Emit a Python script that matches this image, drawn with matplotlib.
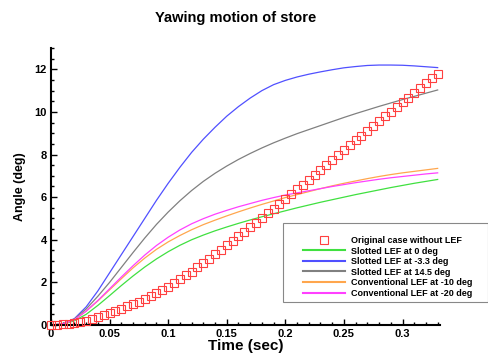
import numpy as np
import matplotlib
matplotlib.use("Agg")
import matplotlib.pyplot as plt
from matplotlib.patches import Rectangle
from matplotlib.ticker import MultipleLocator, FormatStrFormatter

plt.rcParams['font.family'] = ['Liberation Sans', 'DejaVu Sans']

# time grid of the line curves (sec)
t_line = [0.00, 0.01, 0.02, 0.03, 0.04, 0.05, 0.06, 0.07, 0.08, 0.09,
          0.10, 0.11, 0.12, 0.13, 0.14, 0.15, 0.16, 0.17, 0.18, 0.19,
          0.20, 0.21, 0.22, 0.23, 0.24, 0.25, 0.26, 0.27, 0.28, 0.29,
          0.30, 0.31, 0.32, 0.33]

slotted_0 = [0.00, 0.04, 0.20, 0.50, 0.92, 1.38, 1.85, 2.30, 2.72, 3.10,
             3.44, 3.74, 4.00, 4.22, 4.42, 4.60, 4.77, 4.93, 5.08, 5.22,
             5.36, 5.50, 5.63, 5.76, 5.88, 6.00, 6.12, 6.23, 6.34, 6.45,
             6.55, 6.65, 6.74, 6.83]
slotted_m33 = [0.00, 0.05, 0.30, 0.85, 1.60, 2.45, 3.30, 4.15, 5.00, 5.85,
               6.65, 7.40, 8.10, 8.72, 9.28, 9.80, 10.25, 10.65, 11.00, 11.28,
               11.48, 11.64, 11.77, 11.88, 11.98, 12.07, 12.13, 12.18, 12.20, 12.20,
               12.19, 12.16, 12.12, 12.08]
slotted_145 = [0.00, 0.05, 0.28, 0.75, 1.35, 2.00, 2.70, 3.40, 4.08, 4.72,
               5.30, 5.83, 6.31, 6.74, 7.12, 7.46, 7.77, 8.05, 8.31, 8.55,
               8.77, 8.98, 9.17, 9.36, 9.55, 9.74, 9.92, 10.09, 10.26, 10.42,
               10.58, 10.73, 10.88, 11.03]
conv_m10 = [0.00, 0.05, 0.25, 0.65, 1.13, 1.65, 2.17, 2.68, 3.14, 3.55,
            3.90, 4.20, 4.47, 4.71, 4.92, 5.12, 5.31, 5.49, 5.66, 5.82,
            5.98, 6.12, 6.26, 6.40, 6.53, 6.65, 6.76, 6.87, 6.97, 7.06,
            7.14, 7.21, 7.28, 7.35]
conv_m20 = [0.00, 0.05, 0.25, 0.65, 1.15, 1.70, 2.25, 2.78, 3.28, 3.73,
            4.12, 4.46, 4.75, 4.99, 5.20, 5.38, 5.55, 5.70, 5.85, 5.98,
            6.10, 6.20, 6.30, 6.40, 6.50, 6.59, 6.68, 6.76, 6.84, 6.91,
            6.97, 7.03, 7.09, 7.14]

# original case, one marker every 0.005 sec
t_orig = [0.000, 0.005, 0.010, 0.015, 0.020, 0.025, 0.030, 0.035, 0.040, 0.045,
          0.050, 0.055, 0.060, 0.065, 0.070, 0.075, 0.080, 0.085, 0.090, 0.095,
          0.100, 0.105, 0.110, 0.115, 0.120, 0.125, 0.130, 0.135, 0.140, 0.145,
          0.150, 0.155, 0.160, 0.165, 0.170, 0.175, 0.180, 0.185, 0.190, 0.195,
          0.200, 0.205, 0.210, 0.215, 0.220, 0.225, 0.230, 0.235, 0.240, 0.245,
          0.250, 0.255, 0.260, 0.265, 0.270, 0.275, 0.280, 0.285, 0.290, 0.295,
          0.300, 0.305, 0.310, 0.315, 0.320, 0.325, 0.330]
original = [0.00, 0.01, 0.03, 0.06, 0.10, 0.15, 0.21, 0.28, 0.36, 0.45,
            0.55, 0.65, 0.76, 0.87, 0.98, 1.10, 1.23, 1.37, 1.51, 1.65,
            1.80, 1.97, 2.15, 2.33, 2.51, 2.70, 2.90, 3.11, 3.32, 3.53,
            3.75, 3.96, 4.17, 4.38, 4.59, 4.80, 5.02, 5.24, 5.46, 5.68,
            5.90, 6.13, 6.36, 6.59, 6.82, 7.05, 7.28, 7.51, 7.74, 7.97,
            8.20, 8.43, 8.66, 8.89, 9.12, 9.35, 9.57, 9.79, 10.01, 10.23,
            10.45, 10.67, 10.90, 11.12, 11.35, 11.57, 11.80]

W, H = 489, 353
fig = plt.figure(figsize=(W / 100, H / 100), dpi=100)
ax = fig.add_axes([51 / W, 1 - 325 / H, (440 - 51) / W, (325 - 48) / H])

lw = 0.9
ax.plot(t_line, slotted_0, color="#40e040", lw=lw, label="Slotted LEF at 0 deg")
ax.plot(t_line, slotted_m33, color="#5050ff", lw=lw, label="Slotted LEF at -3.3 deg")
ax.plot(t_line, slotted_145, color="#808080", lw=lw, label="Slotted LEF at 14.5 deg")
ax.plot(t_line, conv_m10, color="#ffa64d", lw=lw, label="Conventional LEF at -10 deg")
ax.plot(t_line, conv_m20, color="#ff40ff", lw=lw, label="Conventional LEF at -20 deg")
ax.plot(t_orig, original, linestyle="none", marker="s", markersize=5.3,
        markerfacecolor="none", markeredgecolor="#ff4040", markeredgewidth=0.8,
        clip_on=False, zorder=5, label="Original case without LEF")

ax.set_xlim(0, 0.332)
ax.set_ylim(0, 13)
ax.xaxis.set_major_locator(MultipleLocator(0.05))
ax.xaxis.set_minor_locator(MultipleLocator(0.01))
ax.yaxis.set_major_locator(MultipleLocator(2))
ax.yaxis.set_minor_locator(MultipleLocator(0.5))
ax.xaxis.set_major_formatter(FormatStrFormatter('%g'))

for s in ["top", "right"]:
    ax.spines[s].set_visible(False)
for s in ["left", "bottom"]:
    ax.spines[s].set_linewidth(1.5)
ax.tick_params(which="both", direction="in", width=1.0)
ax.tick_params(which="major", length=4.5, labelsize=8, pad=3)
ax.tick_params(which="minor", length=2.2)
for lab in ax.get_xticklabels() + ax.get_yticklabels():
    lab.set_fontweight("bold")

ax.set_xlabel("Time (sec)", fontsize=11, fontweight="bold", labelpad=0)
ax.set_ylabel("Angle (deg)", fontsize=9, fontweight="bold", labelpad=6)
fig.text(236 / W, 1 - 18 / H, "Yawing motion of store", ha="center", va="center",
         fontsize=10.5, fontweight="bold")

# legend box
fig.patches.append(Rectangle((283 / W, 1 - 302 / H), (488 - 283) / W, (302 - 223) / H,
                             transform=fig.transFigure, facecolor="white",
                             edgecolor="#888888", linewidth=0.8, zorder=10))
handles, labels = ax.get_legend_handles_labels()
order = [5, 0, 1, 2, 3, 4]
leg = fig.legend([handles[i] for i in order], [labels[i] for i in order],
                 loc="upper left", bbox_to_anchor=(303 / W, 1 - 236 / H),
                 frameon=False, borderaxespad=0, borderpad=0,
                 handlelength=4.6, handletextpad=0.75, labelspacing=0.17,
                 numpoints=1, prop={"size": 6.5, "weight": "bold"})
leg.set_zorder(11)
for l in leg.get_lines():
    l.set_linewidth(1.5)

fig.savefig("out.png", dpi=100)
